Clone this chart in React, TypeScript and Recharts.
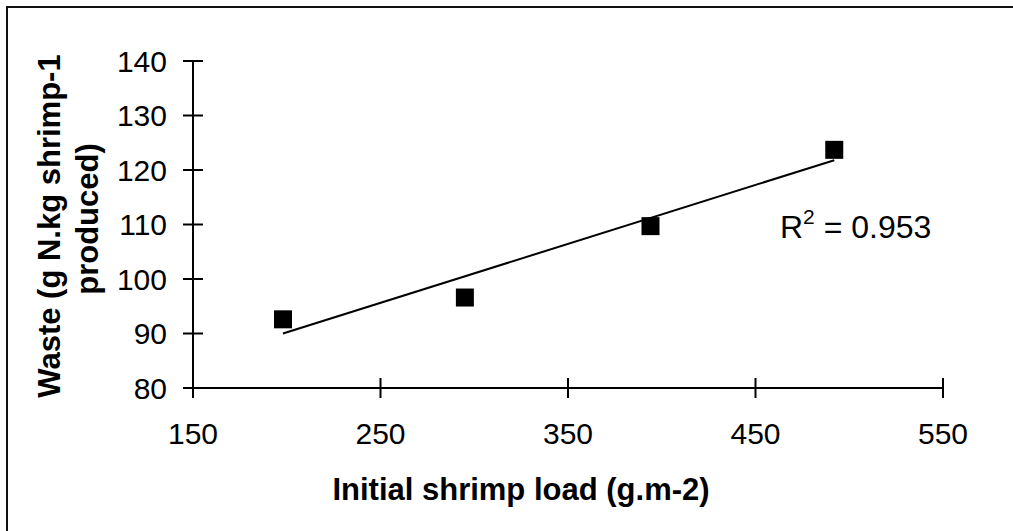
import { ScatterChart, Scatter, XAxis, YAxis, Customized } from "recharts"

const loads = [198, 295, 394, 492]
const waste = [92.6, 96.6, 109.7, 123.7]

const trendLoads = [198, 492]
const trendWaste = [90.0, 121.8]

const xTicks = [150, 250, 350, 450, 550]
const yTicks = [80, 90, 100, 110, 120, 130, 140]

const rSquared = "0.953"

const points = loads.map((x, i) => ({ x, y: waste[i] }))
const trend = trendLoads.map((x, i) => ({ x, y: trendWaste[i] }))

const FONT = "'Liberation Sans', Arial, sans-serif"

function XTick(props: any) {
  const { x, y, payload } = props
  return (
    <g>
      <line x1={x} y1={y - 10} x2={x} y2={y + 10} stroke="#000" strokeWidth={2} />
      <text x={x} y={y + 56} textAnchor="middle" fontSize={30} fontFamily={FONT} fill="#000">
        {payload.value}
      </text>
    </g>
  )
}

function YTick(props: any) {
  const { x, y, payload } = props
  return (
    <g>
      <line x1={x - 10} y1={y} x2={x + 10} y2={y} stroke="#000" strokeWidth={2} />
      <text x={x - 26} y={y} dy="0.36em" textAnchor="end" fontSize={30} fontFamily={FONT} fill="#000">
        {payload.value}
      </text>
    </g>
  )
}

function Square(props: any) {
  const { cx, cy } = props
  return <rect x={cx - 9} y={cy - 9} width={18} height={18} fill="#000" />
}

function Annotations() {
  return (
    <g fontFamily={FONT} fill="#000">
      <text x={521} y={500} textAnchor="middle" fontSize={31} fontWeight="bold">
        Initial shrimp load (g.m-2)
      </text>
      <text x={60} y={226} transform="rotate(-90 60 226)" textAnchor="middle" fontSize={31} fontWeight="bold">
        Waste (g N.kg shrimp-1
      </text>
      <text x={98} y={219} transform="rotate(-90 98 219)" textAnchor="middle" fontSize={31} fontWeight="bold">
        produced)
      </text>
      <text x={780} y={238} fontSize={32}>
        R<tspan fontSize={21} dy={-14}>2</tspan>
        <tspan dy={14}> = {rSquared}</tspan>
      </text>
    </g>
  )
}

export default function App() {
  return (
    <div style={{ position: "absolute", left: 0, top: 0, width: 1013, height: 531, background: "#fff" }}>
      <div
        style={{
          position: "absolute",
          left: 6,
          top: 6,
          width: 1007,
          height: 525,
          borderTop: "2px solid #111",
          borderLeft: "2px solid #111",
          boxSizing: "border-box",
        }}
      />
      <div style={{ position: "absolute", left: 0, top: 0 }}>
        <ScatterChart width={1013} height={531} margin={{ top: 61, right: 70, bottom: 83, left: 113 }}>
          <XAxis
            type="number"
            dataKey="x"
            domain={[150, 550]}
            ticks={xTicks}
            height={60}
            allowDataOverflow
            axisLine={{ stroke: "#000", strokeWidth: 2 }}
            tickLine={false}
            tickSize={0}
            tickMargin={0}
            tick={<XTick />}
            interval={0}
          />
          <YAxis
            type="number"
            dataKey="y"
            domain={[80, 140]}
            ticks={yTicks}
            width={80}
            allowDataOverflow
            axisLine={{ stroke: "#000", strokeWidth: 2 }}
            tickLine={false}
            tickSize={0}
            tickMargin={0}
            tick={<YTick />}
            interval={0}
          />
          <Scatter
            data={trend}
            line={{ stroke: "#000", strokeWidth: 2 }}
            shape={() => <g />}
            isAnimationActive={false}
          />
          <Scatter data={points} shape={<Square />} isAnimationActive={false} />
          <Customized component={<Annotations />} />
        </ScatterChart>
      </div>
    </div>
  )
}
